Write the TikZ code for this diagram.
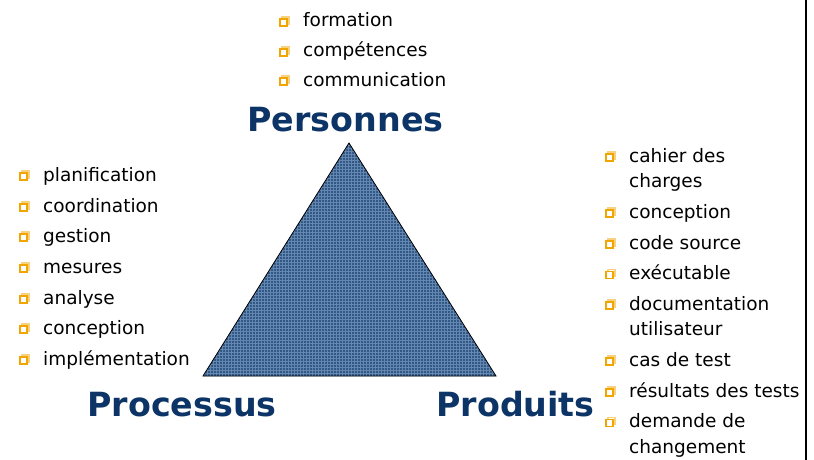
\documentclass[tikz,border=0pt]{standalone}
\usepackage{fontspec}
\setmainfont{DejaVu Sans}
\usetikzlibrary{patterns}
\definecolor{bleutitre}{RGB}{12,52,102}
\definecolor{puceor}{RGB}{240,165,0}
\definecolor{bleutri}{RGB}{50,88,134}
\definecolor{grille}{RGB}{100,135,178}
\tikzset{
	item/.style={anchor=base west, inner sep=0pt, font=\fontsize{18.5}{22}\selectfont},
	puce/.style={draw=puceor, fill=white, line width=1.2pt},
	ombre/.style={draw=puceor!50, line width=1.2pt},
	titre/.style={anchor=base, inner sep=0pt, text=bleutitre,
		font=\fontsize{33.3}{38}\selectfont\bfseries}
}

\begin{document}
\begin{tikzpicture}[x=1pt, y=-1pt]
						\useasboundingbox (0,0) rectangle (814,460);
						% triangle
						\coordinate (s) at (349,143);
						\coordinate (g) at (203,376);
						\coordinate (d) at (496,376);
						\fill[bleutri] (s) -- (g) -- (d) -- cycle;
						\fill[pattern=grid, pattern color=grille] (s) -- (g) -- (d) -- cycle;
						\draw[line width=0.8pt] (s) -- (g) -- (d) -- cycle;
						% titres
						\node[titre] (pers) at (345.5,131) {Personnes};
						\node[titre] (proc) at (182,416) {Processus};
						\node[titre] (prod) at (515.5,416) {Produits};
						% personnes
						\node[item] (a1) at (303,27) {formation};
						\node[item] (a2) at (303,57) {compétences};
						\node[item] (a3) at (303,86) {communication};
						% processus
						\node[item] (b1) at (43,181) {planification};
						\node[item] (b2) at (43,212) {coordination};
						\node[item] (b3) at (43,242) {gestion};
						\node[item] (b4) at (43,273) {mesures};
						\node[item] (b5) at (43,304) {analyse};
						\node[item] (b6) at (43,334) {conception};
						\node[item] (b7) at (43,365) {implémentation};
						% produits
						\node[item] (c1) at (629,162) {cahier des};
						\node[item] (c1s) at (629,187.5) {charges};
						\node[item] (c2) at (629,218) {conception};
						\node[item] (c3) at (629,249) {code source};
						\node[item] (c4) at (629,279.5) {exécutable};
						\node[item] (c5) at (629,310) {documentation};
						\node[item] (c5s) at (629,335.5) {utilisateur};
						\node[item] (c6) at (629,366) {cas de test};
						\node[item] (c7) at (629,397) {résultats des tests};
						\node[item] (c8) at (629,427.5) {demande de};
						\node[item] (c8s) at (629,453) {changement};
						% puces
						\foreach \n in {a1,a2,a3,b1,b2,b3,b4,b5,b6,b7,c1,c2,c3,c4,c5,c6,c7,c8} {
							\draw[ombre] ([xshift=-21pt, yshift=3pt]\n.base west) rectangle ++(7,-7);
							\draw[puce] ([xshift=-23pt, yshift=1pt]\n.base west) rectangle ++(7,-7);
						}
						% bord
						\draw[line width=2pt] (806,0) -- (806,460);
					\end{tikzpicture}
\end{document}
